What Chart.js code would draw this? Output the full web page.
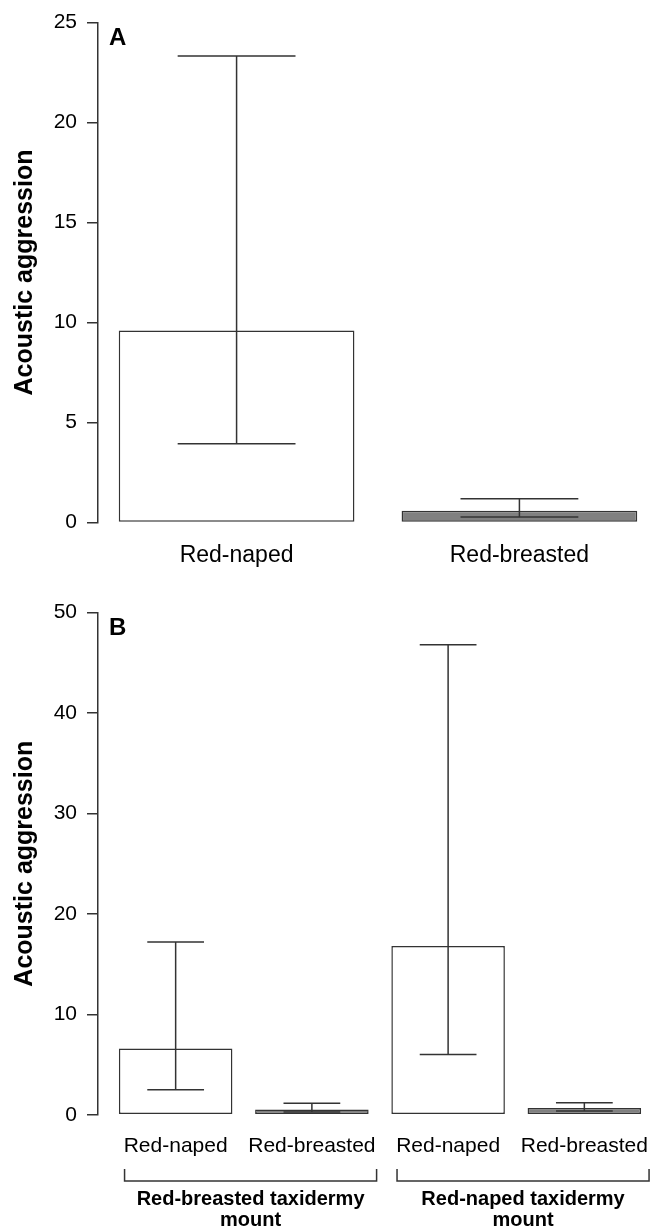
<!DOCTYPE html>
<html>
<head>
<meta charset="utf-8">
<script src="https://cdn.jsdelivr.net/npm/chart.js@4/dist/chart.umd.min.js"></script>
<style>
  body { margin: 0; width: 650px; height: 1230px; overflow: hidden; background: #fff; position: relative; }
  canvas { position: absolute; left: 0; }
  #chartA { top: 0; }
  #chartB { top: 590px; }
</style>
</head>
<body>
<canvas id="chartA" width="658" height="600"></canvas>
<canvas id="chartB" width="662" height="640"></canvas>
<script>
// Dados
const panelALabels = ['Red-naped', 'Red-breasted'];
const panelAMeans = [9.6, 0.58];
const panelALower = [3.94, 0.27];
const panelAUpper = [23.33, 1.18];

const panelBLabels = ['Red-naped', 'Red-breasted', 'Red-naped', 'Red-breasted'];
const panelBMeans = [6.6, 0.53, 16.8, 0.67];
const panelBLower = [2.5, 0.27, 6.0, 0.37];
const panelBUpper = [17.2, 1.16, 46.8, 1.19];
const panelBGroups = [['Red-breasted taxidermy', 'mount'], ['Red-naped taxidermy', 'mount']];

const yTicksA = [0, 5, 10, 15, 20, 25];
const yTicksB = [0, 10, 20, 30, 40, 50];

const FONT = "'Liberation Sans', Arial, sans-serif";
const LINE = '#333';
const speciesFill = { 'Red-naped': '#ffffff', 'Red-breasted': '#808080' };

// posição das barras como no barplot do R (largura 1, espaço 0.2)
const barCenter = i => 0.7 + 1.2 * i;

// Barras de erro desenhadas pelas escalas do Chart.js
const errorBars = {
    id: 'errorBars',
    afterDatasetsDraw(chart, args, opts) {
        const { ctx, scales: { y } } = chart;
        const meta = chart.getDatasetMeta(0);
        ctx.save();
        ctx.strokeStyle = LINE;
        ctx.lineWidth = 1.5;
        meta.data.forEach((bar, i) => {
            const top = y.getPixelForValue(opts.upper[i]);
            const bottom = y.getPixelForValue(opts.lower[i]);
            const half = bar.width / 4;
            ctx.beginPath();
            ctx.moveTo(bar.x, top); ctx.lineTo(bar.x, bottom);
            ctx.moveTo(bar.x - half, top); ctx.lineTo(bar.x + half, top);
            ctx.moveTo(bar.x - half, bottom); ctx.lineTo(bar.x + half, bottom);
            ctx.stroke();
        });
        ctx.restore();
    }
};

// Letra do painel (A / B)
const panelLetter = {
    id: 'panelLetter',
    afterDraw(chart, args, opts) {
        const { ctx, chartArea } = chart;
        ctx.save();
        ctx.fillStyle = '#000';
        ctx.font = 'bold 24px ' + FONT;
        ctx.textBaseline = 'alphabetic';
        ctx.fillText(opts.text, chartArea.left + 11, chartArea.top + 22);
        ctx.restore();
    }
};

// Chaves e rótulos dos grupos (painel B)
const groupBrackets = {
    id: 'groupBrackets',
    afterDraw(chart, args, opts) {
        if (!opts.groups) return;
        const { ctx, scales: { x } } = chart;
        ctx.save();
        ctx.strokeStyle = LINE;
        ctx.lineWidth = 1.5;
        ctx.fillStyle = '#000';
        ctx.font = 'bold 20px ' + FONT;
        ctx.textAlign = 'center';
        opts.groups.forEach((lines, g) => {
            const first = barCenter(g * 2) - 0.5;
            const last = barCenter(g * 2 + 1) + 0.5;
            const x0 = x.getPixelForValue(first + 0.05);
            const x1 = x.getPixelForValue(last + 0.07);
            ctx.beginPath();
            ctx.moveTo(x0, 579); ctx.lineTo(x0, 591); ctx.lineTo(x1, 591); ctx.lineTo(x1, 579);
            ctx.stroke();
            const cx = (x0 + x1) / 2;
            ctx.fillText(lines[0], cx, 615);
            ctx.fillText(lines[1], cx, 636);
        });
        ctx.restore();
    }
};

function makePanel(id, labels, means, lower, upper, yTicks, letter, groups, labelSize, padBottom) {
    const n = labels.length;
    return new Chart(document.getElementById(id), {
        type: 'bar',
        data: {
            datasets: [{
                data: means.map((v, i) => ({ x: barCenter(i), y: v })),
                backgroundColor: labels.map(l => speciesFill[l]),
                borderColor: LINE,
                borderWidth: 1.5,
                borderSkipped: false,
                categoryPercentage: 1,
                barPercentage: 1 / 1.2
            }]
        },
        options: {
            responsive: false,
            animation: false,
            devicePixelRatio: 1,
            layout: { padding: { top: 17, right: 0, left: 0, bottom: padBottom } },
            plugins: {
                legend: { display: false },
                tooltip: { enabled: false },
                errorBars: { lower, upper },
                panelLetter: { text: letter },
                groupBrackets: { groups }
            },
            scales: {
                x: {
                    type: 'linear',
                    offset: false,
                    // limites do eixo com 4% de folga, como no R
                    min: 0.2 - 0.04 * 1.2 * (n - 1 + 1 / 1.2),
                    max: barCenter(n - 1) + 0.5 + 0.04 * 1.2 * (n - 1 + 1 / 1.2),
                    grid: { display: false },
                    border: { display: false },
                    afterBuildTicks: s => { s.ticks = labels.map((_, i) => ({ value: barCenter(i) })); },
                    ticks: {
                        autoSkip: false, maxRotation: 0, padding: 11,
                        color: '#000', font: { family: FONT, size: labelSize },
                        callback: (v, i) => labels[i]
                    }
                },
                y: {
                    min: 0,
                    max: yTicks[yTicks.length - 1],
                    afterFit: s => { s.width = 98; },
                    afterBuildTicks: s => { s.ticks = yTicks.map(v => ({ value: v })); },
                    grid: { drawOnChartArea: false, drawTicks: true, tickLength: 11, color: LINE, lineWidth: 1.5 },
                    border: { display: true, color: LINE, width: 1.5 },
                    ticks: { padding: 10, color: '#000', font: { family: FONT, size: 21 } },
                    title: {
                        display: true,
                        text: 'Acoustic aggression',
                        color: '#000',
                        padding: { top: 10, bottom: 0 },
                        font: { family: FONT, size: 25, weight: 'bold' }
                    }
                }
            }
        },
        plugins: [errorBars, panelLetter, groupBrackets]
    });
}

makePanel('chartA', panelALabels, panelAMeans, panelALower, panelAUpper, yTicksA, 'A', null, 23, 20);
makePanel('chartB', panelBLabels, panelBMeans, panelBLower, panelBUpper, yTicksB, 'B', panelBGroups, 21, 60);
</script>
</body>
</html>
